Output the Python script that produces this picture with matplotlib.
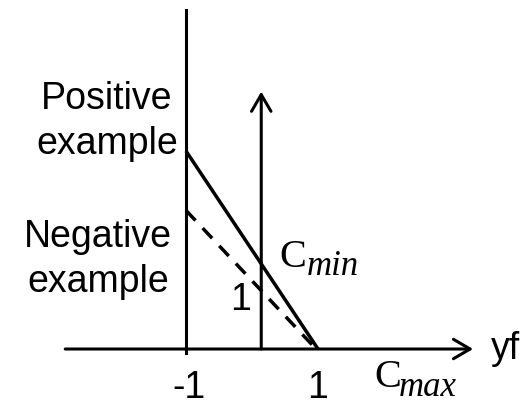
import matplotlib
matplotlib.use("Agg")
import matplotlib.pyplot as plt

plt.rcParams['font.family'] = ['Liberation Sans', 'DejaVu Sans']

# diagram geometry in yf units (x) and loss units (y)
solid_x = [-1, 1]
solid_y = [3.0, 0.0]
dashed_x = [-1, 0.97]
dashed_y = [2.1, 0.0]
left_line_x = -1
left_line_y = [-0.06, 5.14]
mid_arrow_x = 0.14
mid_arrow_y = [0.0, 3.9]
axis_x = [-2.83, 3.35]

tick_labels = ['-1', '1']
tick_pos = [-0.95, 1.0]

fig = plt.figure(figsize=(5.32, 4.03), dpi=100)
ax = fig.add_axes([0, 0, 1, 1])
ax.set_xlim(-3.818, 4.242)
ax.set_ylim(-0.818, 5.288)
ax.axis('off')

lw = 2.2
ax.plot([left_line_x, left_line_x], left_line_y, color='black', lw=lw)
ax.plot(solid_x, solid_y, color='black', lw=lw + 0.3, solid_capstyle='butt')
ax.plot(dashed_x, dashed_y, color='black', lw=lw + 0.3, linestyle=(0, (4, 3)))

arrow = dict(arrowstyle='->,head_length=0.6,head_width=0.35', color='black',
             lw=lw, mutation_scale=20, shrinkA=0, shrinkB=0)
ax.annotate('', xy=(axis_x[1], 0), xytext=(axis_x[0], 0), arrowprops=arrow)
ax.annotate('', xy=(mid_arrow_x, mid_arrow_y[1]), xytext=(mid_arrow_x, mid_arrow_y[0]),
            arrowprops=arrow)

fs = 27
ax.text(-2.2, 3.45, 'Positive\nexample', fontsize=fs, ha='center', va='center',
        linespacing=1.32)
ax.text(-2.33, 1.36, 'Negative\nexample', fontsize=fs, ha='center', va='center',
        linespacing=1.32)
ax.text(-0.17, 0.74, '1', fontsize=fs, ha='center', va='center')
for lab, p in zip(tick_labels, tick_pos):
    ax.text(p, -0.59, lab, fontsize=fs, ha='center', va='center')
ax.text(3.62, 0.0, 'yf', fontsize=fs, ha='left', va='center')

# C with a large italic subscript, like Cambria Math
serif = ['Liberation Serif', 'DejaVu Serif']
ax.text(0.42, 1.24, 'C', fontsize=29, family=serif, ha='left', va='baseline')
ax.text(0.83, 1.12, 'min', fontsize=25, family=serif, style='italic',
        ha='left', va='baseline')
ax.text(1.86, -0.576, 'C', fontsize=29, family=serif, ha='left', va='baseline')
ax.text(2.23, -0.71, 'max', fontsize=25, family=serif, style='italic',
        ha='left', va='baseline')

fig.savefig('out.png', dpi=100)
